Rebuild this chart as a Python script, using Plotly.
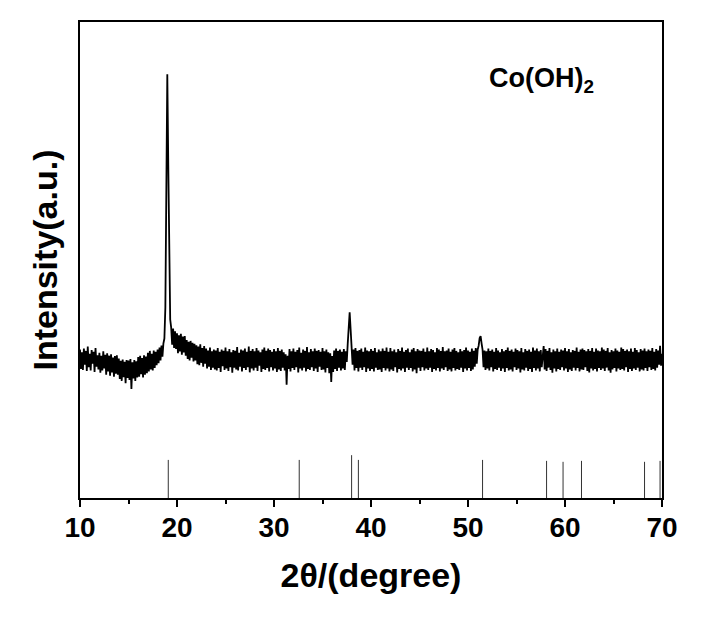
import plotly.graph_objects as go

# 2theta grid (degrees), step 0.1
two_theta = [round(10 + 0.1 * i, 1) for i in range(601)]

# Intensity (a.u.), 10 values per degree
intensity = [
    31.2, 27.1, 30.6, 26.9, 31.4, 28.0, 30.9, 26.7, 31.8, 27.5,  # 10
    30.3, 26.8, 31.1, 28.2, 30.7, 26.5, 31.5, 27.6, 30.0, 27.0,  # 11
    30.5, 26.3, 29.9, 26.8, 30.8, 27.2, 30.1, 25.9, 30.4, 26.6,  # 12
    29.9, 25.7, 30.2, 26.4, 29.5, 25.5, 29.8, 26.1, 30.0, 25.9,  # 13
    29.3, 25.0, 28.8, 24.6, 29.1, 25.4, 28.6, 24.1, 29.0, 25.2,  # 14
    28.9, 24.8, 29.2, 22.9, 28.5, 25.1, 29.0, 24.6, 28.7, 25.3,  # 15
    29.6, 25.5, 29.9, 26.0, 29.4, 25.3, 30.0, 25.9, 29.7, 26.2,  # 16
    30.5, 26.6, 30.9, 27.0, 30.3, 26.8, 31.0, 27.3, 30.7, 27.9,  # 17
    31.2, 28.3, 31.6, 28.9, 32.0, 29.7, 32.5, 33.5, 40.0, 62.0,  # 18
    89.0, 70.0, 45.0, 37.5, 35.8, 32.2, 35.6, 31.5, 35.0, 31.3,  # 19
    34.6, 30.4, 34.2, 30.8, 34.5, 30.1, 33.9, 30.6, 34.0, 29.9,  # 20
    33.2, 29.2, 32.8, 28.9, 33.0, 29.5, 32.6, 28.7, 32.4, 28.9,  # 21
    32.1, 28.1, 31.8, 27.9, 32.3, 28.4, 31.5, 27.6, 31.9, 28.2,  # 22
    31.4, 27.2, 31.0, 27.6, 31.6, 26.9, 30.8, 27.4, 31.2, 27.0,  # 23
    31.0, 26.8, 31.5, 27.3, 30.7, 26.5, 31.2, 27.7, 30.9, 26.9,  # 24
    31.6, 27.2, 30.8, 26.7, 31.3, 27.5, 30.6, 26.3, 31.1, 27.4,  # 25
    30.9, 27.0, 31.7, 26.8, 30.5, 27.6, 31.2, 26.6, 31.0, 27.3,  # 26
    31.4, 26.9, 30.7, 27.5, 31.8, 26.4, 30.9, 27.2, 31.3, 26.8,  # 27
    30.8, 27.4, 31.5, 26.7, 31.0, 27.8, 30.6, 26.5, 31.2, 27.1,  # 28
    31.6, 26.9, 30.9, 27.3, 31.4, 26.6, 31.1, 27.5, 30.7, 26.8,  # 29
    31.3, 27.2, 30.8, 26.5, 31.5, 27.0, 30.9, 26.7, 31.2, 27.4,  # 30
    30.6, 26.8, 30.2, 23.8, 29.9, 27.1, 31.3, 26.6, 30.8, 27.3,  # 31
    31.4, 26.9, 30.7, 27.5, 31.1, 26.4, 31.6, 27.2, 30.5, 26.8,  # 32
    31.2, 27.4, 30.9, 26.6, 31.7, 27.1, 30.6, 26.9, 31.3, 27.5,  # 33
    30.8, 26.7, 31.4, 27.2, 30.9, 26.5, 31.1, 27.6, 30.7, 26.9,  # 34
    31.5, 27.0, 30.8, 26.4, 31.2, 27.3, 30.6, 26.2, 30.4, 24.4,  # 35
    29.8, 26.5, 31.0, 27.1, 31.4, 26.7, 30.9, 27.4, 31.2, 26.8,  # 36
    30.7, 27.2, 31.3, 26.9, 30.8, 28.6, 32.4, 35.0, 39.0, 35.4,  # 37
    32.3, 28.0, 31.2, 26.8, 31.5, 27.3, 30.9, 26.6, 31.1, 27.4,  # 38
    31.4, 26.9, 30.7, 27.5, 31.6, 26.5, 31.0, 27.2, 30.8, 26.7,  # 39
    31.3, 27.1, 30.9, 26.6, 31.5, 27.4, 30.6, 26.9, 31.2, 27.0,  # 40
    30.8, 26.5, 31.4, 27.3, 30.9, 26.8, 31.6, 27.2, 30.7, 26.6,  # 41
    31.5, 27.0, 30.8, 26.7, 31.2, 27.5, 30.6, 26.4, 31.3, 27.1,  # 42
    30.9, 26.8, 31.6, 27.2, 30.7, 26.5, 31.1, 27.4, 31.4, 26.9,  # 43
    30.6, 27.3, 31.2, 26.6, 31.5, 27.0, 30.8, 26.2, 31.3, 27.4,  # 44
    31.0, 26.7, 30.9, 27.5, 31.4, 26.8, 30.7, 27.2, 31.6, 26.9,  # 45
    30.8, 27.4, 31.3, 26.5, 31.1, 27.1, 30.6, 26.8, 31.5, 27.3,  # 46
    31.2, 26.6, 30.9, 27.2, 31.7, 26.9, 30.8, 27.5, 31.0, 26.7,  # 47
    31.4, 27.0, 30.7, 26.6, 31.2, 27.3, 31.5, 26.8, 30.9, 27.1,  # 48
    30.6, 26.9, 31.3, 27.4, 30.8, 26.5, 31.1, 27.2, 31.6, 26.8,  # 49
    31.0, 27.3, 30.7, 26.7, 31.4, 27.0, 30.9, 27.6, 31.5, 28.2,  # 50
    31.2, 32.0, 33.6, 34.0, 32.5, 31.2, 27.5, 31.0, 26.9, 30.8,  # 51
    27.2, 31.4, 26.8, 30.9, 27.5, 31.2, 26.6, 30.7, 27.1, 31.5,  # 52
    26.9, 31.0, 27.4, 30.6, 26.7, 31.3, 27.2, 30.8, 26.5, 31.1,  # 53
    27.3, 31.6, 26.8, 30.9, 27.0, 31.2, 26.6, 30.7, 27.5, 31.4,  # 54
    26.9, 31.1, 27.2, 30.8, 26.4, 31.5, 27.0, 30.6, 26.8, 31.3,  # 55
    27.4, 30.9, 26.7, 31.2, 27.1, 30.7, 26.5, 31.6, 27.3, 31.0,  # 56
    26.8, 31.4, 27.2, 30.8, 26.6, 31.1, 27.5, 30.9, 31.9, 27.0,  # 57
    31.3, 26.7, 30.9, 27.4, 31.5, 26.9, 30.6, 26.3, 31.2, 27.2,  # 58
    30.8, 26.6, 31.4, 27.1, 30.7, 26.9, 31.2, 27.5, 31.0, 26.8,  # 59
    31.5, 27.2, 30.8, 26.5, 31.3, 27.0, 30.6, 26.7, 31.1, 27.4,  # 60
    30.9, 26.8, 31.6, 27.3, 30.7, 26.6, 31.2, 27.0, 31.4, 26.9,  # 61
    31.1, 27.5, 30.8, 26.7, 31.3, 26.4, 30.9, 27.2, 31.5, 26.8,  # 62
    30.7, 27.1, 31.4, 26.6, 31.0, 27.3, 30.8, 26.9, 31.6, 27.2,  # 63
    31.2, 26.7, 30.9, 27.4, 31.5, 26.8, 30.6, 26.3, 31.1, 27.0,  # 64
    30.8, 27.3, 31.4, 26.6, 31.0, 27.2, 30.7, 26.9, 31.6, 27.1,  # 65
    31.3, 26.8, 30.9, 27.5, 31.2, 26.5, 30.8, 27.1, 31.4, 26.7,  # 66
    30.7, 27.2, 31.5, 26.9, 31.1, 27.4, 30.6, 26.6, 31.3, 27.0,  # 67
    31.0, 26.8, 31.4, 27.3, 30.8, 26.7, 31.2, 27.5, 30.9, 26.9,  # 68
    31.5, 27.1, 30.7, 26.8, 31.3, 27.4, 31.0, 28.0, 32.0, 27.8,  # 69
    30.3,                                                        # 70
]

# Reference (standard) pattern sticks for Co(OH)2
ref_positions = [19.1, 32.6, 38.0, 38.7, 51.5, 58.1, 59.8, 61.7, 68.2, 69.8]
ref_heights = [8.0, 8.0, 9.0, 8.0, 8.0, 7.8, 7.6, 7.8, 7.6, 7.8]

stick_x, stick_y = [], []
for p, h in zip(ref_positions, ref_heights):
    stick_x += [p, p, None]
    stick_y += [0, h, None]

fig = go.Figure()
fig.add_trace(go.Scatter(x=two_theta, y=intensity, mode="lines",
                         line=dict(color="black", width=1.8), showlegend=False))
fig.add_trace(go.Scatter(x=stick_x, y=stick_y, mode="lines",
                         line=dict(color="#333333", width=1), showlegend=False))

font_family = "Liberation Sans, Arial, sans-serif"
tick_vals = [10, 20, 30, 40, 50, 60, 70]
fig.update_layout(
    width=726, height=622,
    margin=dict(l=72, r=72, t=14, b=132, autoexpand=False),
    plot_bgcolor="white", paper_bgcolor="white",
    font=dict(family=font_family, color="black"),
    xaxis=dict(
        range=[10, 70], tickmode="array", tickvals=tick_vals,
        ticktext=["<b>%d</b>" % v for v in tick_vals],
        ticks="outside", ticklen=7, tickwidth=2, tickcolor="black",
        ticklabelstandoff=-4,
        minor=dict(tickvals=[15, 25, 35, 45, 55, 65], ticks="outside", ticklen=4, tickwidth=2, tickcolor="black"),
        tickfont=dict(size=28, family=font_family, color="black"),
        showline=True, linewidth=2, linecolor="black", mirror=True,
        showgrid=False, zeroline=False, automargin=False,
        title=dict(text="<b>2θ/(degree)</b>", font=dict(size=34, family=font_family, color="black"), standoff=22),
    ),
    yaxis=dict(
        range=[0, 100], showticklabels=False, ticks="",
        showline=True, linewidth=2, linecolor="black", mirror=True,
        showgrid=False, zeroline=False, automargin=False,
        title=dict(text="<b>Intensity(a.u.)</b>", font=dict(size=34, family=font_family, color="black"), standoff=10),
    ),
    annotations=[dict(x=(541 - 80) / 582, y=(498 - 80) / 476, xref="paper", yref="paper",
                      xanchor="center", yanchor="middle",
                      text="<b>Co(OH)<sub>2</sub></b>", showarrow=False,
                      font=dict(size=27, family=font_family, color="black"))],
)

fig.write_html("out.html")
